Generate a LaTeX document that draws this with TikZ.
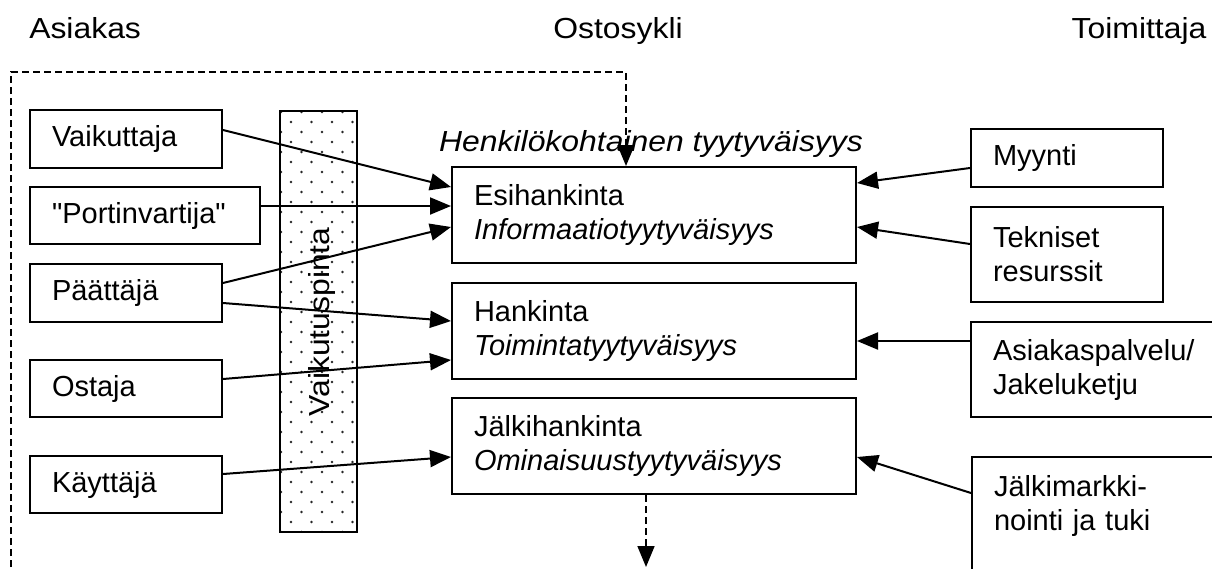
\documentclass[tikz,border=0pt]{standalone}
\usepackage{fontspec}
\setmainfont{Liberation Sans}[Ligatures=TeXOff]
\newfontfamily\widefont[FakeStretch=1.1]{Liberation Sans}
\usetikzlibrary{arrows.meta,calc}
\begin{document}
\begin{tikzpicture}[x=0.75pt,y=-0.75pt,
  every node/.style={font=\fontsize{21.75pt}{25.5pt}\selectfont},
  box/.style={draw,line width=1.5pt,align=left,inner xsep=16.5pt,inner ysep=0pt},
  head/.style={font=\widefont\fontsize{21.75pt}{25.5pt}\selectfont,anchor=base,inner sep=0pt},
  link/.style={line width=1.5pt,-{Triangle[length=15.75pt,width=12.75pt]}},
  frame/.style={line width=1.2pt,dash pattern=on 5.25pt off 3pt,-{Triangle[length=15.75pt,width=12.75pt]}},
  dot/.style={fill=black!85}]
\useasboundingbox (0,0) rectangle (1212,568);
\clip (0,0) rectangle (1212,568);

% column headings
\node[head,anchor=base west] (asiakas) at (29,38) {Asiakas};
\node[head] (ostosykli) at (618,38) {Ostosykli};
\node[head] (toimittaja) at (1139,38) {Toimittaja};

% customer roles
\node[box,text width=111pt,minimum height=43.5pt] (vaik) at (126,139) {Vaikuttaja};
\node[box,text width=139.5pt,minimum height=42.75pt] (port) at (145,215.5) {"Portinvartija"};
\node[box,text width=111pt,minimum height=43.5pt] (paat) at (126,293) {Päättäjä};
\node[box,text width=111pt,minimum height=42.75pt] (osta) at (126,388.5) {Ostaja};
\node[box,text width=111pt,minimum height=42.75pt] (kayt) at (126,484.5) {Käyttäjä};

% purchasing cycle
\node[box,text width=270pt,minimum height=72pt] (esi) at (654,215) {Esihankinta\\\textit{Informaatiotyytyväisyys}};
\node[box,text width=270pt,minimum height=72pt] (han) at (654,331) {Hankinta\\\textit{Toimintatyytyväisyys}};
\node[box,text width=270pt,minimum height=72pt] (jal) at (654,446) {Jälkihankinta\\\textit{Ominaisuustyytyväisyys}};
\node[head] (henk) at (651,151) {\itshape Henkilökohtainen tyytyväisyys};

% supplier functions
\node[box,text width=111pt,minimum height=43.5pt] (myy) at (1067,158) {Myynti};
\node[box,text width=111pt,minimum height=71.25pt] (tek) at (1067,254.5) {Tekniset\\resurssit};
\node[box,text width=192pt,minimum height=71.25pt] (asp) at (1121,369.5) {Asiakaspalvelu/\\Jakeluketju};
\node[box,anchor=north west,text width=192pt,inner ysep=13.5pt,text depth=80pt] (jmk) at (971,456) {Jälkimarkki-\\nointi ja tuki};

% dotted interaction surface
\node[minimum width=57.75pt,minimum height=315.75pt,inner sep=0pt] (vp) at (318.5,321.5) {};
\begin{scope}
  \clip (vp.north west) rectangle (vp.south east);
  \foreach \k [evaluate=\k as \yy using 112+10*\k,
               evaluate=\k as \xo using {mod(\k,2)==0 ? 281 : 291}] in {0,...,42}
    \foreach \i in {0,...,3}
      \fill[dot] (\xo+20.5*\i,\yy) circle[radius=1pt];
\end{scope}
\draw[line width=1.5pt] (vp.north west) rectangle (vp.south east);

% influence arrows from the customer side
\draw[link] ([yshift=6.75pt]vaik.east) -- ([yshift=21pt]esi.west);
\draw[link] ([yshift=7.125pt]port.east) -- ([yshift=6.75pt]esi.west);
\draw[link] ([yshift=7.5pt]paat.east) -- ([yshift=-9pt]esi.west);
\draw[link] ([yshift=-7.5pt]paat.east) -- ([yshift=7.5pt]han.west);
\draw[link] ([yshift=7.125pt]osta.east) -- ([yshift=-21.75pt]han.west);
\draw[link] ([yshift=7.875pt]kayt.east) -- ([yshift=-8.25pt]jal.west);

% arrows from the supplier side
\draw[link] ([yshift=-7.5pt]myy.west) -- ([yshift=24pt]esi.east);
\draw[link] ([yshift=7.875pt]tek.west) -- ([yshift=-9pt]esi.east);
\draw[link] ([yshift=21.375pt]asp.west) -- ([yshift=-7.5pt]han.east);
\draw[link] ([yshift=-27.75pt]jmk.north west) -- ([yshift=-8.25pt]jal.east);

% dashed feedback frame and outgoing arrow
\coordinate (fb) at (11,600);
\coordinate (fc) at (626,72);
\draw[frame] (fb) |- (fc) -- ([xshift=-21pt]esi.north);
\coordinate (out) at (646,567);
\draw[frame] ([xshift=-6pt]jal.south) -- (out);

\node[head,rotate=90,anchor=center] (vplabel) at (322,322) {Vaikutuspinta};
\end{tikzpicture}
\end{document}
